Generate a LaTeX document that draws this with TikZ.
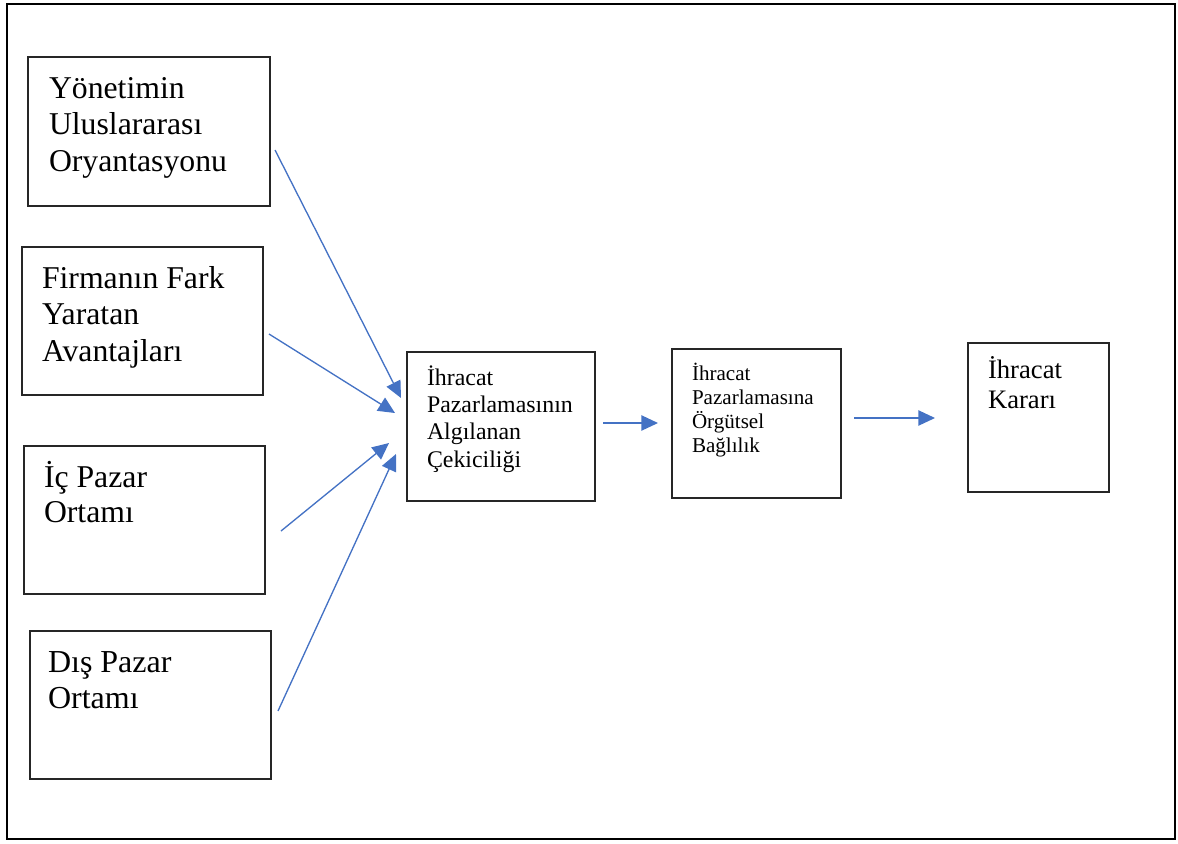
\documentclass[tikz,border=0pt]{standalone}
\usepackage{fontspec}
\setmainfont{Liberation Serif}
\usetikzlibrary{arrows.meta}
\definecolor{linkblue}{HTML}{4472C4}
% multi-line box text: size, line skip, lines
\newcommand{\boxtxt}[3]{\parbox[t]{300pt}{\raggedright\fontsize{#1}{#2}\selectfont #3}}
\tikzset{
  box/.style={draw=black!85, line width=1.1pt, inner sep=0pt, outer sep=0pt, anchor=north west},
  txt/.style={anchor=base west, inner sep=0pt, outer sep=0pt},
  link/.style={draw=linkblue, line width=1pt, -{Triangle[length=12.5pt,width=11.5pt]}}
}
\begin{document}
\begin{tikzpicture}[x=0.75pt,y=-0.75pt]
\useasboundingbox (0,0) rectangle (1178,843);
% outer frame
\draw[line width=1.6pt] (7,4) rectangle (1175,839);

% boxes (sizes in px, 1px = 0.75pt)
\node[box, minimum width=242*0.75pt, minimum height=149*0.75pt] (b1) at (28,57) {};
\node[box, minimum width=241*0.75pt, minimum height=148*0.75pt] (b2) at (22,247) {};
\node[box, minimum width=241*0.75pt, minimum height=148*0.75pt] (b3) at (24,446) {};
\node[box, minimum width=241*0.75pt, minimum height=148*0.75pt] (b4) at (30,631) {};
\node[box, minimum width=188*0.75pt, minimum height=149*0.75pt] (b5) at (407,352) {};
\node[box, minimum width=169*0.75pt, minimum height=149*0.75pt] (b6) at (672,349) {};
\node[box, minimum width=141*0.75pt, minimum height=149*0.75pt] (b7) at (968,343) {};

% box texts
\node[txt] (t1) at (49,98)  {\boxtxt{23.8pt}{27.5pt}{Yönetimin\\Uluslararası\\Oryantasyonu}};
\node[txt] (t2) at (42,288) {\boxtxt{23.8pt}{27.4pt}{Firmanın Fark\\Yaratan\\Avantajları}};
\node[txt] (t3) at (44,487) {\boxtxt{23.8pt}{26.5pt}{İç Pazar\\Ortamı}};
\node[txt] (t4) at (48,672) {\boxtxt{24pt}{27pt}{Dış Pazar\\Ortamı}};
\node[txt] (t5) at (427,385) {\boxtxt{17.9pt}{20.6pt}{İhracat\\Pazarlamasının\\Algılanan\\Çekiciliği}};
\node[txt] (t6) at (692,380) {\boxtxt{15.8pt}{18pt}{İhracat\\Pazarlamasına\\Örgütsel\\Bağlılık}};
\node[txt] (t7) at (988,378) {\boxtxt{20pt}{23.2pt}{İhracat\\Kararı}};

% connector ends
\coordinate (s1) at (275,150); \coordinate (e1) at (401,398);
\coordinate (s2) at (269,334); \coordinate (e2) at (395,413);
\coordinate (s3) at (281,531); \coordinate (e3) at (389,443);
\coordinate (s4) at (278,711); \coordinate (e4) at (396,454);
\coordinate (s5) at (603,423); \coordinate (e5) at (658,423);
\coordinate (s6) at (854,418); \coordinate (e6) at (935,418);

\draw[link] (s1) -- (e1);
\draw[link] (s2) -- (e2);
\draw[link] (s3) -- (e3);
\draw[link] (s4) -- (e4);
\draw[link] (s5) -- (e5);
\draw[link] (s6) -- (e6);
\end{tikzpicture}
\end{document}
